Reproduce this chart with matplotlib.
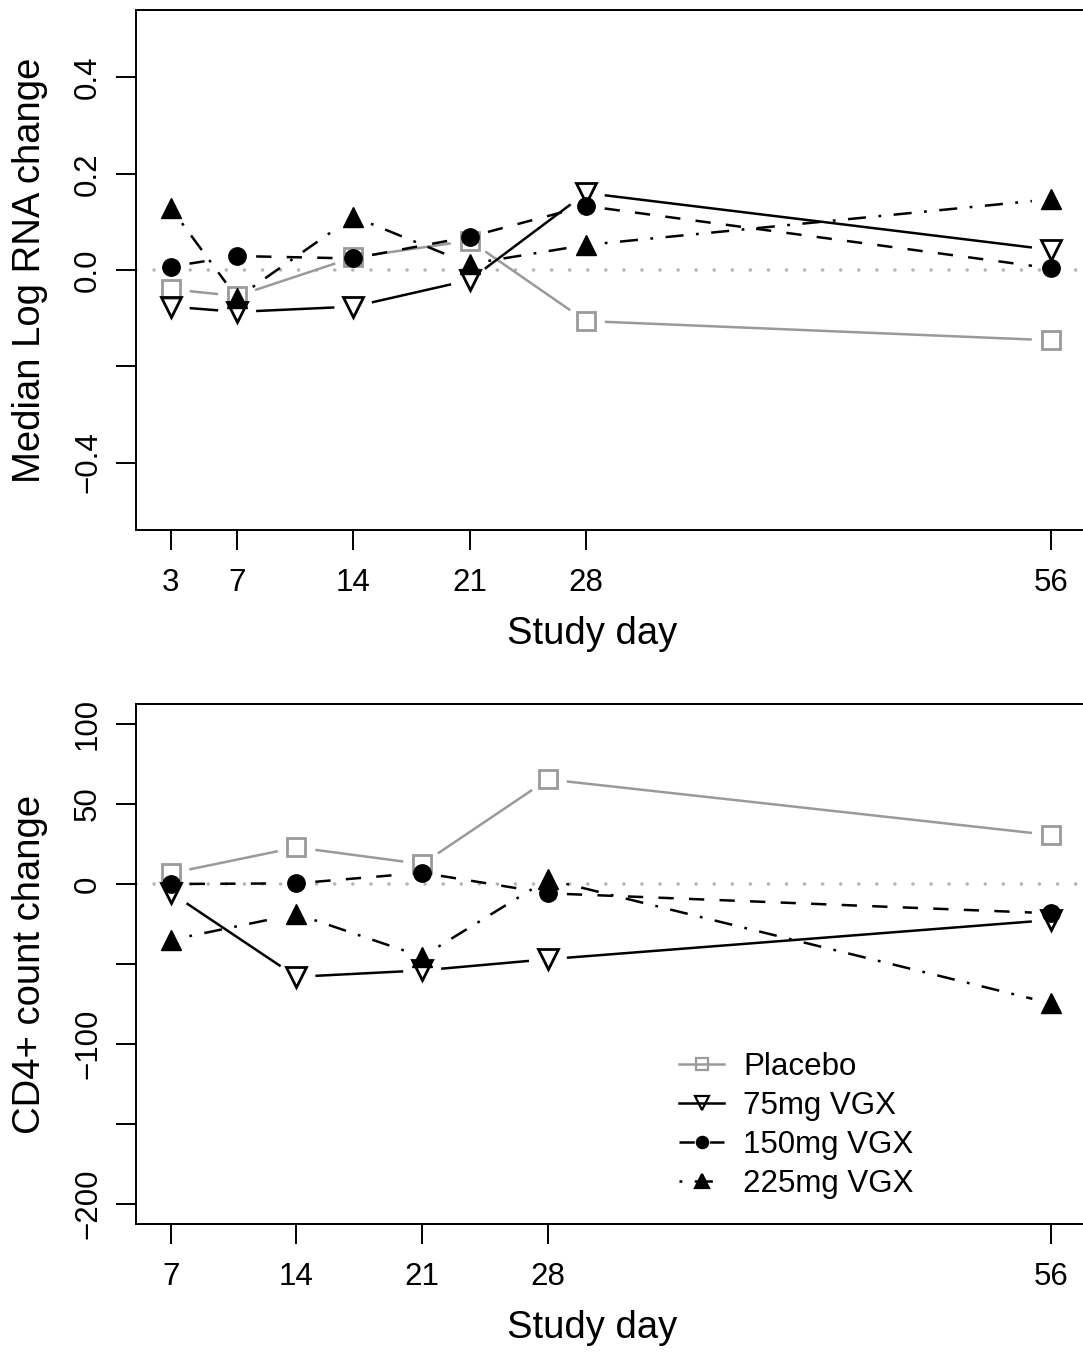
import matplotlib
matplotlib.use('Agg')
import matplotlib.pyplot as plt
import numpy as np
from matplotlib.lines import Line2D

# ---------------- data ----------------
groups = ['Placebo', '75mg VGX', '150mg VGX', '225mg VGX']

rna_days = [3, 7, 14, 21, 28, 56]
rna_placebo = [-0.040, -0.054, 0.026, 0.061, -0.106, -0.146]
rna_75 = [-0.076, -0.087, -0.076, -0.021, 0.160, 0.042]
rna_150 = [0.007, 0.029, 0.024, 0.069, 0.133, 0.0035]
rna_225 = [0.129, -0.058, 0.111, 0.0125, 0.052, 0.147]

cd4_days = [7, 14, 21, 28, 56]
cd4_placebo = [6.7, 22.9, 12.5, 65.4, 30.6]
cd4_75 = [-5.4, -58.0, -54.0, -47.0, -22.5]
cd4_150 = [0.0, 0.4, 7.0, -5.8, -18.3]
cd4_225 = [-35.0, -18.75, -45.4, 2.9, -74.6]

rna_yticks = [-0.4, -0.2, 0.0, 0.2, 0.4]
rna_yticklabels = ['\u22120.4', '', '0.0', '0.2', '0.4']
cd4_yticks = [-200, -150, -100, -50, 0, 50, 100]
cd4_yticklabels = ['\u2212200', '', '\u2212100', '', '0', '50', '100']

# ---------------- style ----------------
plt.rcParams['font.family'] = ['Liberation Sans', 'DejaVu Sans']
plt.rcParams['lines.scale_dashes'] = False

GRAY = '#9a9a9a'
styles = [
    dict(color=GRAY, ls='-', marker='s', ms=13, mfc='none', mec=GRAY, mew=2.0),
    dict(color='black', ls='-', marker='v', ms=15, mfc='none', mec='black', mew=2.0),
    dict(color='black', ls=(0, (11, 11)), marker='o', ms=12.5, mfc='black', mec='black', mew=1.0),
    dict(color='black', ls=(0, (2, 9, 13, 9)), marker='^', ms=15, mfc='black', mec='black', mew=1.0),
]
LW = 1.8
GAP = 19  # px gap around points (R type="b")
TICK_FS = 22.5
LAB_FS = 27.5

W, H = 1083, 1355
fig = plt.figure(figsize=(W / 100, H / 100), dpi=100)


def add_ax(top_px, bottom_px):
    left, right = 135.5, 1086
    return fig.add_axes([left / W, 1 - bottom_px / H, (right - left) / W, (bottom_px - top_px) / H])


def draw_series(ax, x, y, st):
    pts = ax.transData.transform(np.column_stack([x, y]))
    inv = ax.transData.inverted()
    for i in range(len(pts) - 1):
        p0, p1 = pts[i], pts[i + 1]
        d = p1 - p0
        L = np.hypot(d[0], d[1])
        if L <= 2 * GAP:
            continue
        u = d / L
        a = inv.transform(p0 + u * GAP)
        b = inv.transform(p1 - u * GAP)
        ax.plot([a[0], b[0]], [a[1], b[1]], color=st['color'], lw=LW,
                linestyle=st['ls'], solid_capstyle='butt', dash_capstyle='butt', zorder=2)
    ax.plot(x, y, linestyle='none', marker=st['marker'], ms=st['ms'], mfc=st['mfc'],
            mec=st['mec'], mew=st['mew'], zorder=3)


def style_ax(ax, xticks, yticks, yticklabels, ylabel):
    for s in ['left', 'top', 'bottom', 'right']:
        ax.spines[s].set_linewidth(1.4)
    ax.set_xticks(xticks)
    ax.set_xticklabels([str(t) for t in xticks])
    ax.set_yticks(yticks)
    ax.set_yticklabels(yticklabels, rotation=90, va='center')
    ax.tick_params(axis='both', length=14.4, width=1.4, labelsize=TICK_FS, direction='out')
    ax.tick_params(axis='x', pad=13)
    ax.tick_params(axis='y', pad=9)
    ax.set_xlabel('Study day', fontsize=LAB_FS)
    ax.xaxis.set_label_coords(0.48, -0.2)
    ax.xaxis.label.set_va('center')
    ax.set_ylabel(ylabel, fontsize=LAB_FS)
    ax.yaxis.set_label_coords(-0.111, 0.5)
    ax.yaxis.label.set_va('center')
    ax.axhline(0, color='#b5b5b5', lw=2.6, linestyle=(0, (0.01, 13)),
               dash_capstyle='round', zorder=1)


# ---------------- top panel ----------------
ax1 = add_ax(10, 530)
ax1.set_xlim(0.88, 58.12)
ax1.set_ylim(-0.54, 0.54)
style_ax(ax1, rna_days, rna_yticks, rna_yticklabels, 'Median Log RNA change')
for yv, st in zip([rna_placebo, rna_75, rna_150, rna_225], styles):
    draw_series(ax1, rna_days, yv, st)

# ---------------- bottom panel ----------------
ax2 = add_ax(704, 1224)
ax2.set_xlim(5.04, 57.96)
ax2.set_ylim(-212.5, 112.5)
style_ax(ax2, cd4_days, cd4_yticks, cd4_yticklabels, 'CD4+ count change')
for yv, st in zip([cd4_placebo, cd4_75, cd4_150, cd4_225], styles):
    draw_series(ax2, cd4_days, yv, st)

handles = []
for st in styles:
    handles.append(Line2D([], [], color=st['color'], lw=LW, linestyle=st['ls'],
                          marker=st['marker'], ms=st['ms'] * 0.65, mfc=st['mfc'],
                          mec=st['mec'], mew=1.6))
ax2.legend(handles, groups, frameon=False, loc='upper left',
           bbox_to_anchor=(0.572, 0.33), fontsize=TICK_FS, handlelength=1.45,
           handletextpad=0.6, labelspacing=0.28, borderpad=0, borderaxespad=0)

fig.savefig('out.png', dpi=100)
